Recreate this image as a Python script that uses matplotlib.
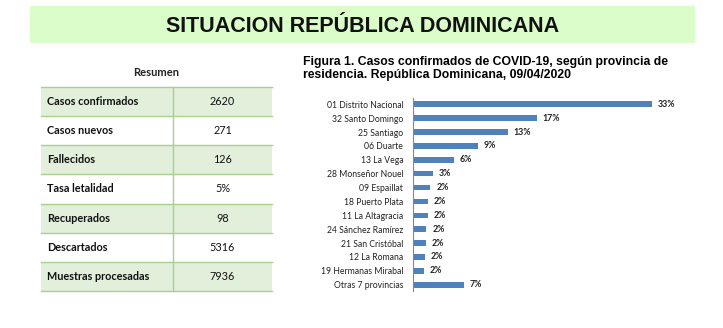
import matplotlib
matplotlib.use("Agg")
import matplotlib.pyplot as plt
from matplotlib.patches import Rectangle

# datos del resumen
resumen_labels = ["Casos confirmados", "Casos nuevos", "Fallecidos", "Tasa letalidad",
                  "Recuperados", "Descartados", "Muestras procesadas"]
resumen_values = ["2620", "271", "126", "5%", "98", "5316", "7936"]

# datos de la figura 1 (porcentaje de casos por provincia)
provincias = ["01 Distrito Nacional", "32 Santo Domingo", "25 Santiago", "06 Duarte",
              "13 La Vega", "28 Monseñor Nouel", "09 Espaillat", "18 Puerto Plata",
              "11 La Altagracia", "24 Sánchez Ramírez", "21 San Cristóbal",
              "12 La Romana", "19 Hermanas Mirabal", "Otras 7 provincias"]
porcentajes = [33.0, 17.1, 13.1, 8.9, 5.6, 2.7, 2.4, 2.0, 2.0, 1.85, 1.8, 1.65, 1.5, 7.0]
etiquetas = ["33%", "17%", "13%", "9%", "6%", "3%", "2%", "2%", "2%", "2%", "2%", "2%", "2%", "7%"]

W, H = 723, 328
fig = plt.figure(figsize=(W / 100, H / 100), dpi=100)
fig.patch.set_facecolor("white")

# capa de fondo en pixeles
bg = fig.add_axes([0, 0, 1, 1])
bg.set_xlim(0, W)
bg.set_ylim(H, 0)
bg.axis("off")

# banda verde del titulo
bg.add_patch(Rectangle((30, 6), 665, 37, facecolor="#dbfdc9", edgecolor="none"))
bg.text(362.5, 26, "SITUACION REPÚBLICA DOMINICANA", ha="center", va="center",
        fontsize=15.5, fontweight="bold", family="Liberation Sans", color="#111111")

# tabla resumen
x0, xm, x1 = 41, 173, 272
top, rh = 86.7, 29.2
bg.text((x0 + x1) / 2, 72, "Resumen", ha="center", va="center", fontsize=8,
        fontweight="bold", family="Lato", color="#222222")
for i in range(len(resumen_labels)):
    y = top + i * rh
    if i % 2 == 0:
        bg.add_patch(Rectangle((x0, y), x1 - x0, rh, facecolor="#e2efda", edgecolor="none"))
    bg.text(x0 + 6, y + rh / 2, resumen_labels[i], ha="left", va="center", fontsize=7.8,
            fontweight="bold", family="Lato", color="#111111")
    bg.text((xm + x1) / 2, y + rh / 2, resumen_values[i], ha="center", va="center",
            fontsize=7.8, family="Lato", color="#111111")
for i in range(len(resumen_labels) + 1):
    y = top + i * rh
    bg.plot([x0, x1], [y, y], color="#a9d08e", linewidth=1.0)
bg.plot([xm, xm], [top, top + rh * len(resumen_labels)], color="#a9d08e", linewidth=1.0)

# titulo de la figura
bg.text(303, 62, "Figura 1. Casos confirmados de COVID-19, según provincia de",
        ha="left", va="center", fontsize=8.8, fontweight="bold", family="Liberation Sans")
bg.text(303, 75, "residencia. República Dominicana, 09/04/2020",
        ha="left", va="center", fontsize=8.8, fontweight="bold", family="Liberation Sans")

# grafico de barras
ax = fig.add_axes([413 / W, (H - 291) / H, (708 - 413) / W, 193 / H])
ypos = list(range(len(provincias)))
ax.barh(ypos, porcentajes, height=0.4, color="#4f81bd")
for y, v, lab in zip(ypos, porcentajes, etiquetas):
    ax.text(v + 0.8, y, lab, ha="left", va="center", fontsize=6.3, fontweight="bold",
            family="Lato", color="#222222")
ax.set_yticks(ypos)
ax.set_yticklabels(provincias, fontsize=6.2, family="Lato", color="#222222")
ax.set_ylim(13.45, -0.45)
ax.set_xlim(0, 295 / 7.25)
ax.set_xticks([])
ax.tick_params(axis="y", length=0, pad=7)
for s in ["top", "right", "bottom"]:
    ax.spines[s].set_visible(False)
ax.spines["left"].set_color("#888888")
ax.spines["left"].set_linewidth(0.8)
ax.patch.set_alpha(0)

fig.savefig("out.png", dpi=100)
